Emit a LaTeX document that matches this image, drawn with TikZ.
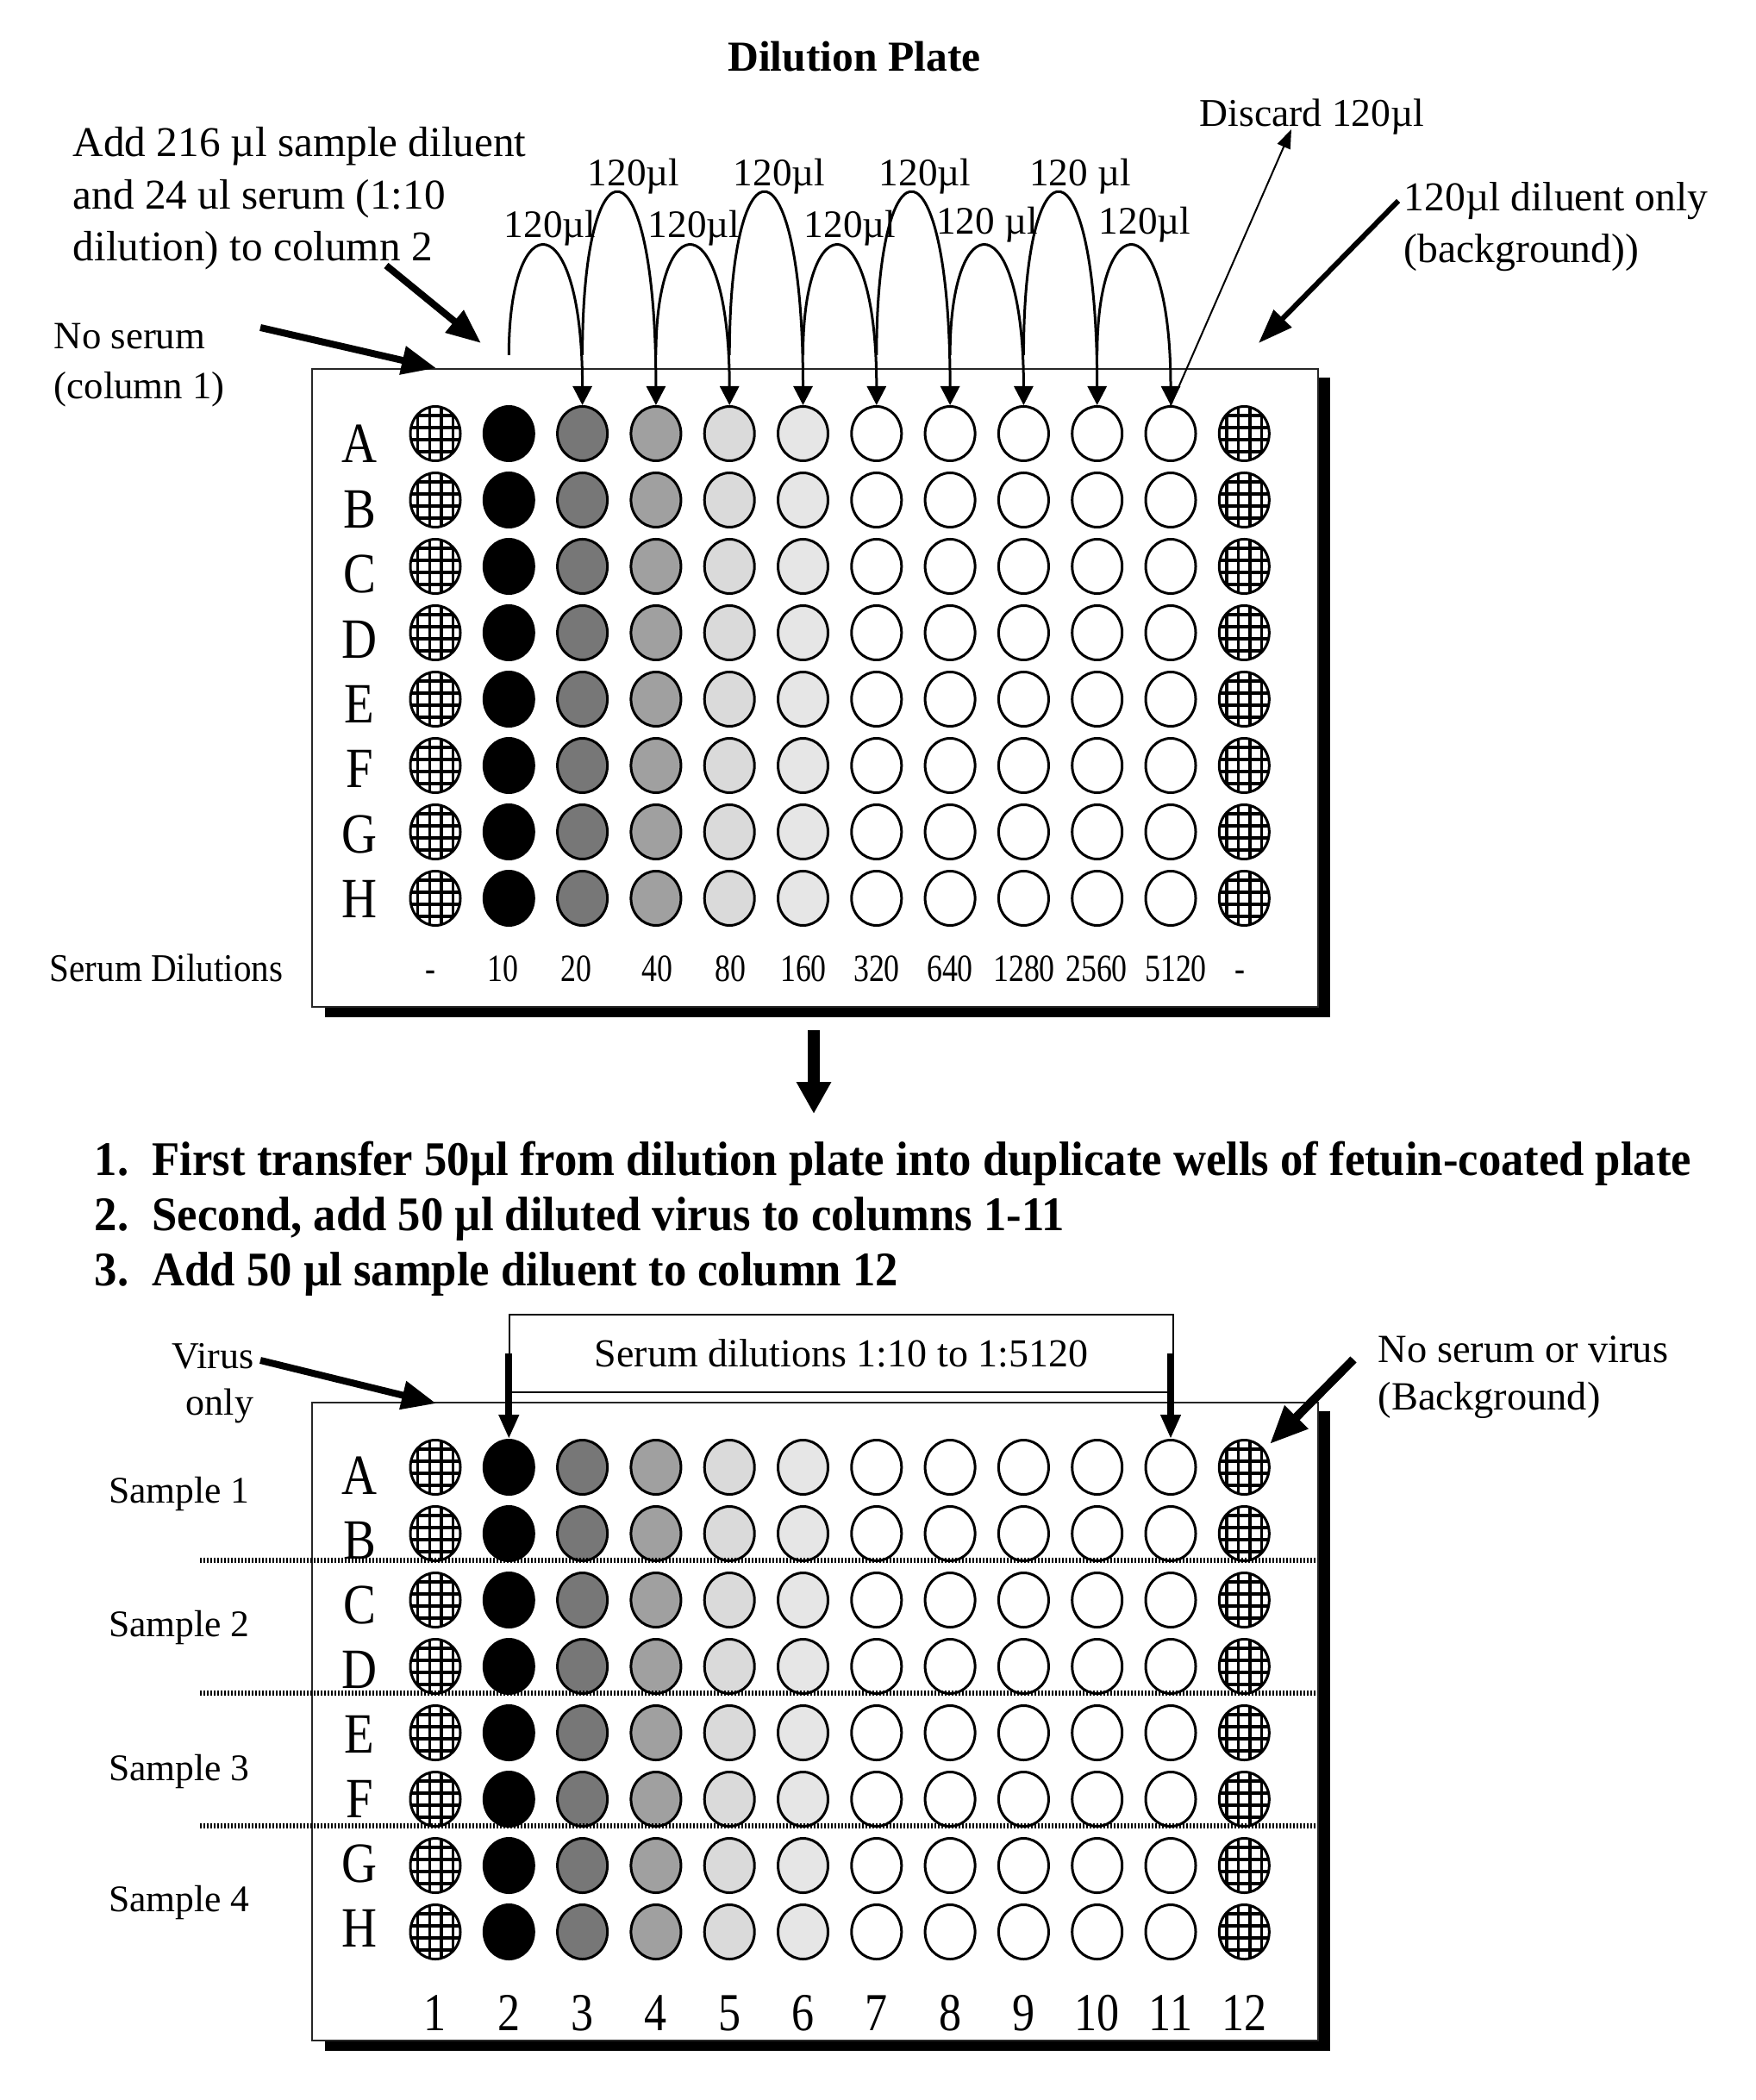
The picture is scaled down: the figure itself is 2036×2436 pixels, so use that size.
\documentclass[tikz,border=0pt]{standalone}
\usepackage{fontspec}
\setmainfont{Liberation Serif}
\usetikzlibrary{shapes.geometric,arrows.meta}
\definecolor{g3}{HTML}{777777}
\definecolor{g4}{HTML}{A0A0A0}
\definecolor{g5}{HTML}{DADADA}
\definecolor{g6}{HTML}{E6E6E6}
\newcommand{\mylinesL}[1]{\begin{tabular}[t]{@{}l@{}}#1\end{tabular}}
\newcommand{\mylinesR}[1]{\begin{tabular}[t]{@{}r@{}}#1\end{tabular}}
\begin{document}
\begin{tikzpicture}[x=0.25pt,y=-0.25pt,
  well/.style={ellipse,draw=black,line width=0.75pt,minimum width=14.5pt,minimum height=15.75pt,inner sep=0pt},
  hatch/.style={well,fill=white,path picture={
     \foreach \d in {-5.1,-1.7,1.7,5.1}{
       \draw[line width=0.85pt] ([xshift=\d pt]path picture bounding box.north) -- ([xshift=\d pt]path picture bounding box.south);}
     \foreach \d in {-5.25,-1.75,1.75,5.25}{
       \draw[line width=0.85pt] ([yshift=\d pt]path picture bounding box.west) -- ([yshift=\d pt]path picture bounding box.east);}
  }},
  plate/.style={draw=black!85,line width=0.6pt,fill=white,minimum width=291.75pt,minimum height=185pt,inner sep=0pt},
  txt/.style={inner sep=0pt,anchor=base},
  txtw/.style={inner sep=0pt,anchor=base west},
  rowlab/.style={txt,font=\fontsize{16.5}{18}\selectfont},
  xfer/.style={line width=0.75pt,-{Triangle[length=5.5pt,width=5.5pt]}},
  fat/.style={line width=2pt,-{Triangle[length=10pt,width=8pt]}},
  boxarrow/.style={line width=2pt,-{Triangle[length=7pt,width=5.5pt]}},
  sep/.style={line width=1.4pt,dash pattern=on 0.5pt off 0.5pt}
]
\useasboundingbox (0,0) rectangle (2036,2436);

% ---------- title ----------
\node[txt,font=\bfseries\fontsize{12.4}{15}\selectfont] (title) at (991,83) {Dilution Plate};

% ---------- top plate ----------
\fill[black] (377,438) rectangle (1543,1180);
\node[plate] (plateT) at (945.5,798) {};

\foreach \L [count=\row] in {A,B,C,D,E,F,G,H}{
  \pgfmathsetmacro\yy{503+(\row-1)*77}
  \pgfmathsetmacro\ly{537+(\row-1)*75.4}
  \node[rowlab] (tL\row) at (417,\ly) {\scalebox{0.86}[1]{\L}};
  \node[hatch] (t\row-1) at (505,\yy) {};
  \foreach \col/\f in {2/black,3/g3,4/g4,5/g5,6/g6,7/white,8/white,9/white,10/white,11/white}{
    \pgfmathsetmacro\xx{505+(\col-1)*85.3}
    \node[well,fill=\f] (t\row-\col) at (\xx,\yy) {};
  }
  \node[hatch] (t\row-12) at (1443.3,\yy) {};
}

\node[txtw,font=\fontsize{11.4}{14}\selectfont] (sdil) at (57,1138) {\scalebox{0.9}[1]{Serum Dilutions}};
\foreach \col/\x/\v in {1/499/-,2/583/10,3/668/20,4/762/40,5/847/80,6/932/160,7/1017/320,8/1102/640,9/1188/1280,10/1272/2560,11/1364/5120,12/1438/-}{
  \node[txt,font=\fontsize{11.2}{13}\selectfont] (dv\col) at (\x,1138) {\scalebox{0.8}[1]{\v}};
}

% ---------- transfer arcs ----------
\foreach \k in {2,...,10}{
  \pgfmathsetmacro\xa{505+(\k-1)*85.3}
  \pgfmathsetmacro\xb{505+\k*85.3}
  \pgfmathtruncatemacro\kn{\k+1}
  \pgfmathsetmacro\cy{mod(\k,2)==0 ? 235 : 153}
  \coordinate (s\k) at (\xa,412);
  \draw[xfer] (s\k) .. controls (\xa,\cy) and (\xb,\cy) .. (t1-\kn.north);
}
\foreach \n/\x/\y/\t in {a/638/276/120µl, b/735/216/120µl, c/805/276/120µl, d/904/216/120µl,
   e/986/276/120µl, f/1073/216/120µl, g/1145/272/120 µl, h/1253/216/120 µl, i/1328/272/120µl}{
  \node[txt,font=\fontsize{11.3}{13}\selectfont] (lab\n) at (\x,\y) {\t};
}

% discard
\node[txtw,font=\fontsize{11.4}{14}\selectfont] (discard) at (1391,147) {Discard 120µl};
\coordinate (discTip) at (1498,150);
\draw[line width=0.5pt,-{Triangle[length=5.5pt,width=4pt]}] (t1-11.north) -- (discTip);

% left annotations
\node[txtw,font=\fontsize{12.3}{15.1}\selectfont] (addtxt) at (84,182)
  {\mylinesL{Add 216 µl sample diluent\\and 24 ul serum (1:10\\dilution) to column 2}};
\coordinate (addS) at (448,308);
\coordinate (addE) at (558,398);
\draw[fat] (addS) -- (addE);

\node[txtw,font=\fontsize{11.2}{14.3}\selectfont] (noserum) at (62,405)
  {\mylinesL{No serum\\(column 1)}};
\coordinate (nsS) at (302,380);
\coordinate (nsE) at (506,427);
\draw[fat] (nsS) -- (nsE);

\node[txtw,font=\fontsize{11.9}{15}\selectfont] (dilonly) at (1628,245)
  {\mylinesL{120µl diluent only\\(background))}};
\coordinate (doS) at (1622,233);
\coordinate (doE) at (1460,398);
\draw[line width=1.5pt,-{Triangle[length=10pt,width=7pt]}] (doS) -- (doE);

% ---------- middle arrow and instructions ----------
\coordinate (dA) at (944,1195);
\coordinate (dB) at (944,1292);
\draw[line width=3.5pt,-{Triangle[length=9.25pt,width=9.5pt]}] (dA) -- (dB);

\node[txtw,font=\bfseries\fontsize{14}{16.1}\selectfont] (instr) at (109,1363)
  {\scalebox{0.94}[1]{\mylinesL{\makebox[17.8pt][l]{1.}First transfer 50µl from dilution plate into duplicate wells of fetuin-coated plate\\
   \makebox[17.8pt][l]{2.}Second, add 50 µl diluted virus to columns 1-11\\
   \makebox[17.8pt][l]{3.}Add 50 µl sample diluent to column 12}}};

% ---------- bottom plate ----------
\fill[black] (377,1637) rectangle (1543,2379);
\node[plate] (plateB) at (945.5,1997) {};

\node[draw=black,line width=0.5pt,minimum width=192.5pt,minimum height=22.5pt,inner sep=0pt,
      font=\fontsize{11.5}{14}\selectfont] (sbox) at (976,1570) {Serum dilutions 1:10 to 1:5120};

\foreach \L [count=\row] in {A,B,C,D,E,F,G,H}{
  \pgfmathsetmacro\yy{1702+(\row-1)*77}
  \pgfmathsetmacro\ly{1733+(\row-1)*75}
  \node[rowlab] (bL\row) at (417,\ly) {\scalebox{0.86}[1]{\L}};
  \node[hatch] (b\row-1) at (505,\yy) {};
  \foreach \col/\f in {2/black,3/g3,4/g4,5/g5,6/g6,7/white,8/white,9/white,10/white,11/white}{
    \pgfmathsetmacro\xx{505+(\col-1)*85.3}
    \node[well,fill=\f] (b\row-\col) at (\xx,\yy) {};
  }
  \node[hatch] (b\row-12) at (1443.3,\yy) {};
}
\foreach \col in {1,...,12}{
  \pgfmathsetmacro\xx{505+(\col-1)*85.3}
  \node[txt,font=\fontsize{15.5}{17}\selectfont] (cn\col) at (\xx,2355) {\scalebox{0.84}[1]{\col}};
}

\draw[boxarrow] (b1-2.north |- sbox.west) -- (b1-2.north);
\draw[boxarrow] (b1-11.north |- sbox.east) -- (b1-11.north);

% separators
\foreach \y in {1810,1964,2118}{
  \draw[sep] (232,\y) -- (1527,\y);
}

% sample labels
\foreach \s/\y in {1/1743,2/1898,3/2065,4/2217}{
  \node[txt,font=\fontsize{10.9}{13}\selectfont] (samp\s) at (208,\y) {Sample \s};
}

\node[anchor=base east,inner sep=0pt,font=\fontsize{11}{13.5}\selectfont] (virus) at (295,1587)
  {\mylinesR{Virus\\only}};
\coordinate (vS) at (302,1578);
\coordinate (vE) at (506,1628);
\draw[fat] (vS) -- (vE);

\node[txtw,font=\fontsize{11.6}{13.75}\selectfont] (nsv) at (1598,1580)
  {\mylinesL{No serum or virus\\(Background)}};
\coordinate (nsvS) at (1570,1577);
\coordinate (nsvE) at (1473,1675);
\draw[line width=2.5pt,-{Triangle[length=11pt,width=9pt]}] (nsvS) -- (nsvE);

\end{tikzpicture}
\end{document}
